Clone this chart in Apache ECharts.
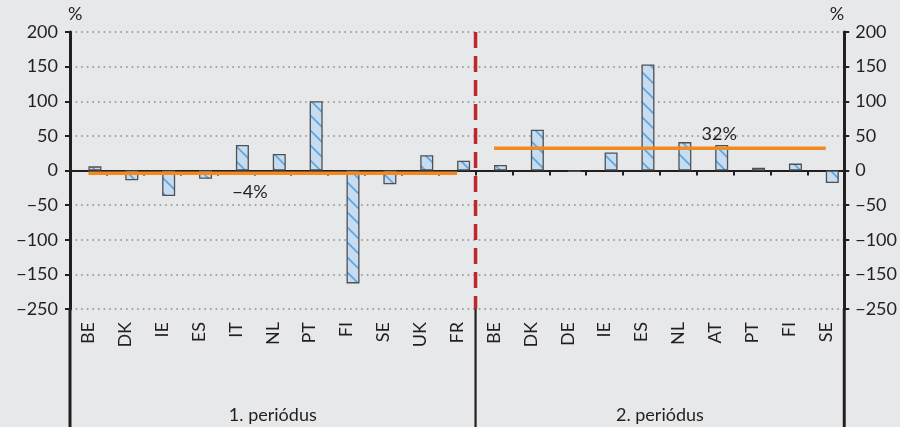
<!DOCTYPE html>
<html>
<head>
<meta charset="utf-8">
<script src="https://cdn.jsdelivr.net/npm/echarts@6/dist/echarts.min.js"></script>
<style>
html,body{margin:0;padding:0;background:#e7e8ea;}
#c{width:900px;height:427px;}
</style>
</head>
<body>
<div id="c"></div>
<script>
// ---- data ----
const categories1 = ['BE','DK','IE','ES','IT','NL','PT','FI','SE','UK','FR'];
const categories2 = ['BE','DK','DE','IE','ES','NL','AT','PT','FI','SE'];
const values1 = [6, -14, -37, -12, 37, 24, 100, -163, -20, 22, 14];
const values2 = [8, 59, -2, 26, 153, 41, 37, 4, 10, -18];
const average1 = -4;
const average2 = 32;
const averageLabels = ['\u22124%', '32%'];
const periodLabels = ['1. periódus', '2. periódus'];
const yTickValues = [-200, -150, -100, -50, 0, 50, 100, 150, 200];
const yTickLabels = ['\u2212250', '\u2212150', '\u2212100', '\u221250', '0', '50', '100', '150', '200'];

// ---- build ----
const FONT = 'Lato';
const FS = 18;
const TXT = '#231f20';
const allCats = categories1.concat(categories2);
const n1 = categories1.length, n2 = categories2.length;
const barData = values1.concat(values2);
const avgLine1 = allCats.map((c, i) => i < n1 ? average1 : null);
const avgLine2 = allCats.map((c, i) => i >= n1 ? average2 : null);
const lbl1Idx = 4, lbl2Idx = n1 + 6;
avgLine1[lbl1Idx] = {value: average1, label: {show: true, position: 'bottom', distance: 9, offset: [14, 0], formatter: averageLabels[0]}};
avgLine2[lbl2Idx] = {value: average2, label: {show: true, position: 'top', distance: 5, offset: [4, 0], formatter: averageLabels[1]}};

function makePattern() {
  const s = 15;
  const cv = document.createElement('canvas');
  cv.width = s; cv.height = s;
  const ctx = cv.getContext('2d');
  ctx.fillStyle = '#c6dcf1';
  ctx.fillRect(0, 0, s, s);
  ctx.strokeStyle = '#62a6de';
  ctx.lineWidth = 1.8;
  ctx.beginPath();
  ctx.moveTo(-2, -2); ctx.lineTo(s + 2, s + 2);
  ctx.moveTo(-2 - s, -2); ctx.lineTo(2, s + 2);
  ctx.moveTo(s - 2, -2); ctx.lineTo(2 * s + 2, s + 2);
  ctx.stroke();
  return cv;
}

function fmtY(v) {
  const i = yTickValues.indexOf(v);
  return i >= 0 ? yTickLabels[i] : '';
}

const chart = echarts.init(document.getElementById('c'), null, {renderer: 'canvas'});
const axisLineStyle = {color: TXT, width: 3};
const lbl = {fontFamily: FONT, fontSize: FS, color: TXT};

chart.setOption({
  backgroundColor: '#e7e8ea',
  animation: false,
  textStyle: lbl,
  grid: {left: 70, right: 54, top: 32, bottom: 118, containLabel: false},
  xAxis: [
    {
      type: 'category', data: allCats, boundaryGap: true,
      axisLine: {show: true, onZero: true, lineStyle: {color: TXT, width: 2.2}},
      axisTick: {show: true, length: 5, lineStyle: {color: TXT, width: 2}},
      axisLabel: {show: false}, splitLine: {show: false}
    },
    {
      type: 'category', data: allCats, boundaryGap: true, position: 'bottom',
      axisLine: {show: false, onZero: false}, axisTick: {show: false},
      axisLabel: Object.assign({show: true, rotate: 90, margin: 13, interval: 0}, lbl),
      splitLine: {show: false}
    }
  ],
  yAxis: [
    {
      type: 'value', min: -200, max: 200, interval: 50, position: 'left',
      name: '%', nameLocation: 'end', nameGap: 9,
      nameTextStyle: Object.assign({align: 'left', padding: [0, 0, 0, -2]}, lbl),
      axisLine: {show: true, lineStyle: axisLineStyle},
      axisTick: {show: true, length: 5, lineStyle: {color: TXT, width: 2}},
      axisLabel: Object.assign({margin: 12, formatter: fmtY}, lbl),
      splitLine: {show: true, lineStyle: {color: '#8c8c8c', width: 1.6, type: [1.6, 4]}}
    },
    {
      type: 'value', min: -200, max: 200, interval: 50, position: 'right',
      name: '%', nameLocation: 'end', nameGap: 9,
      nameTextStyle: Object.assign({align: 'right'}, lbl),
      axisLine: {show: true, lineStyle: axisLineStyle},
      axisTick: {show: true, length: 5, lineStyle: {color: TXT, width: 2}},
      axisLabel: Object.assign({margin: 11, formatter: fmtY}, lbl),
      splitLine: {show: false}
    }
  ],
  series: [
    {type: 'bar', data: [], barWidth: 13, barGap: '0%'},
    {
      type: 'bar', data: barData, barWidth: 13, barGap: '0%',
      itemStyle: {color: {image: makePattern(), repeat: 'repeat'}, borderColor: '#505050', borderWidth: 1.3},
      z: 2
    },
    {
      type: 'line', data: avgLine1, symbol: 'circle', symbolSize: 1, showSymbol: true, z: 4,
      itemStyle: {color: 'rgba(0,0,0,0)'},
      lineStyle: {color: '#f28a22', width: 3.5},
      label: Object.assign({}, lbl)
    },
    {
      type: 'line', data: avgLine2, symbol: 'circle', symbolSize: 1, showSymbol: true, z: 4,
      itemStyle: {color: 'rgba(0,0,0,0)'},
      lineStyle: {color: '#f28a22', width: 3.5},
      label: Object.assign({}, lbl)
    }
  ]
});

// separators and period labels computed from the axis scales
const c0 = chart.convertToPixel({xAxisIndex: 0}, 0);
const c1 = chart.convertToPixel({xAxisIndex: 0}, 1);
const band = c1 - c0;
const xLeft = c0 - band / 2;
const xMid = chart.convertToPixel({xAxisIndex: 0}, n1 - 1) + band / 2;
const xRight = chart.convertToPixel({xAxisIndex: 0}, n1 + n2 - 1) + band / 2;
const yTop = chart.convertToPixel({yAxisIndex: 0}, 200);
const yBot = chart.convertToPixel({yAxisIndex: 0}, -200);
const H = chart.getHeight();

chart.setOption({
  graphic: [
    {type: 'line', shape: {x1: xMid, y1: yTop, x2: xMid, y2: yBot}, style: {stroke: '#c0262d', lineWidth: 3.5, lineDash: [16, 8]}, z: 10},
    {type: 'line', shape: {x1: xLeft, y1: yBot, x2: xLeft, y2: H}, style: {stroke: TXT, lineWidth: 3}, z: 10},
    {type: 'line', shape: {x1: xMid, y1: yBot, x2: xMid, y2: H}, style: {stroke: TXT, lineWidth: 2.2}, z: 10},
    {type: 'line', shape: {x1: xRight, y1: yBot, x2: xRight, y2: H}, style: {stroke: TXT, lineWidth: 3}, z: 10},
    {type: 'text', x: (xLeft + xMid) / 2, y: H - 12, style: {text: periodLabels[0], fill: TXT, font: FS + 'px ' + FONT, textAlign: 'center', textVerticalAlign: 'middle'}, z: 10},
    {type: 'text', x: (xMid + xRight) / 2, y: H - 12, style: {text: periodLabels[1], fill: TXT, font: FS + 'px ' + FONT, textAlign: 'center', textVerticalAlign: 'middle'}, z: 10}
  ]
});
</script>
</body>
</html>
